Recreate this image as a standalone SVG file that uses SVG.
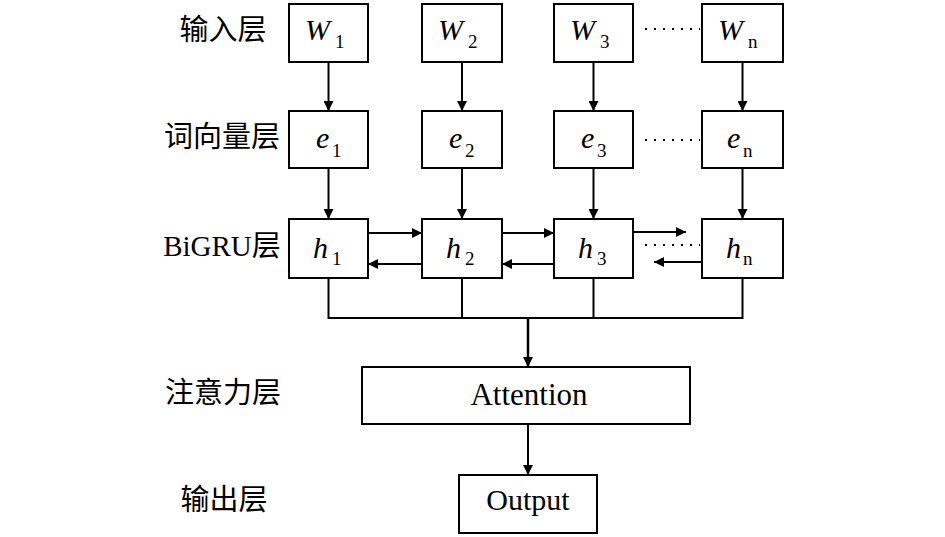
<svg xmlns="http://www.w3.org/2000/svg" width="945" height="537" viewBox="0 0 945 537">
<style>
.box{fill:#fff;stroke:#000;stroke-width:2}
.ln{fill:none;stroke:#000;stroke-width:2}
.dot{fill:none;stroke:#000;stroke-width:2;stroke-dasharray:2 7}
.lbl{font-family:"Liberation Serif","Noto Sans CJK SC",serif;font-size:29px;text-anchor:middle;fill:#000}
.v{font-family:"Liberation Serif",serif;font-size:30px;font-style:italic;fill:#000}
.s{font-family:"Liberation Serif",serif;font-size:19px;fill:#000}
.t{font-family:"Liberation Serif",serif;font-size:30px;text-anchor:middle;fill:#000}
</style>
<defs>
<marker id="ah" viewBox="0 0 10 10" refX="10" refY="5" markerWidth="10" markerHeight="10" markerUnits="userSpaceOnUse" orient="auto">
<path d="M0,0 L10,5 L0,10 z" fill="#000"/>
</marker>
</defs>
<g id="labels">
<text class="lbl" x="223" y="40">输入层</text>
<text class="lbl" x="222" y="147">词向量层</text>
<text class="lbl" x="222" y="256">BiGRU层</text>
<text class="lbl" x="223" y="403">注意力层</text>
<text class="lbl" x="224" y="510">输出层</text>
</g>
<g id="connectors">
<line class="ln" x1="328.5" y1="62" x2="328.5" y2="111" marker-end="url(#ah)"/>
<line class="ln" x1="462" y1="62" x2="462" y2="111" marker-end="url(#ah)"/>
<line class="ln" x1="593.5" y1="62" x2="593.5" y2="111" marker-end="url(#ah)"/>
<line class="ln" x1="742.5" y1="62" x2="742.5" y2="111" marker-end="url(#ah)"/>
<line class="ln" x1="328.5" y1="168" x2="328.5" y2="219" marker-end="url(#ah)"/>
<line class="ln" x1="462" y1="168" x2="462" y2="219" marker-end="url(#ah)"/>
<line class="ln" x1="593.5" y1="168" x2="593.5" y2="219" marker-end="url(#ah)"/>
<line class="ln" x1="742.5" y1="168" x2="742.5" y2="219" marker-end="url(#ah)"/>
<line class="ln" x1="368" y1="233" x2="422" y2="233" marker-end="url(#ah)"/>
<line class="ln" x1="422" y1="264" x2="368" y2="264" marker-end="url(#ah)"/>
<line class="ln" x1="502" y1="233" x2="554" y2="233" marker-end="url(#ah)"/>
<line class="ln" x1="554" y1="264" x2="502" y2="264" marker-end="url(#ah)"/>
<line class="ln" x1="633" y1="232" x2="686" y2="232" marker-end="url(#ah)"/>
<line class="ln" x1="702" y1="262" x2="654" y2="262" marker-end="url(#ah)"/>
<line class="dot" x1="645" y1="245" x2="700" y2="245"/>
<line class="dot" x1="645" y1="29" x2="700" y2="29"/>
<line class="dot" x1="645" y1="140" x2="700" y2="140"/>
<path class="ln" d="M328.5,278 V318 H742.5 V278 M462,278 V318 M593.5,278 V318"/>
<line class="ln" x1="528" y1="318" x2="528" y2="367" marker-end="url(#ah)" style="stroke-width:2.5"/>
<line class="ln" x1="528" y1="424" x2="528" y2="475" marker-end="url(#ah)"/>
</g>
<g id="w1"><rect class="box" x="289" y="4" width="79" height="58"/><text class="v" x="305" y="40">W</text><text class="s" x="335" y="48">1</text></g>
<g id="w2"><rect class="box" x="422" y="4" width="80" height="58"/><text class="v" x="438" y="40">W</text><text class="s" x="468" y="48">2</text></g>
<g id="w3"><rect class="box" x="554" y="4" width="79" height="58"/><text class="v" x="570" y="40">W</text><text class="s" x="600" y="48">3</text></g>
<g id="wn"><rect class="box" x="702" y="4" width="81" height="58"/><text class="v" x="718" y="40">W</text><text class="s" x="748" y="48">n</text></g>
<g id="e1"><rect class="box" x="289" y="111" width="79" height="57"/><text class="v" x="316" y="148">e</text><text class="s" x="332" y="157">1</text></g>
<g id="e2"><rect class="box" x="422" y="111" width="80" height="57"/><text class="v" x="449" y="148">e</text><text class="s" x="465" y="157">2</text></g>
<g id="e3"><rect class="box" x="554" y="111" width="79" height="57"/><text class="v" x="581" y="148">e</text><text class="s" x="597" y="157">3</text></g>
<g id="en"><rect class="box" x="702" y="111" width="81" height="57"/><text class="v" x="727" y="148">e</text><text class="s" x="743" y="157">n</text></g>
<g id="h1"><rect class="box" x="289" y="219" width="79" height="59"/><text class="v" x="313" y="258">h</text><text class="s" x="332" y="265">1</text></g>
<g id="h2"><rect class="box" x="422" y="219" width="80" height="59"/><text class="v" x="446" y="258">h</text><text class="s" x="465" y="265">2</text></g>
<g id="h3"><rect class="box" x="554" y="219" width="79" height="59"/><text class="v" x="578" y="258">h</text><text class="s" x="597" y="265">3</text></g>
<g id="hn"><rect class="box" x="702" y="219" width="81" height="59"/><text class="v" x="726" y="258">h</text><text class="s" x="743" y="265">n</text></g>
<g id="attention"><rect class="box" x="362" y="367" width="328" height="57"/><text class="t" x="529" y="405" style="font-size:31px">Attention</text></g>
<g id="output"><rect class="box" x="459" y="475" width="138" height="58"/><text class="t" x="528" y="510">Output</text></g>
</svg>
